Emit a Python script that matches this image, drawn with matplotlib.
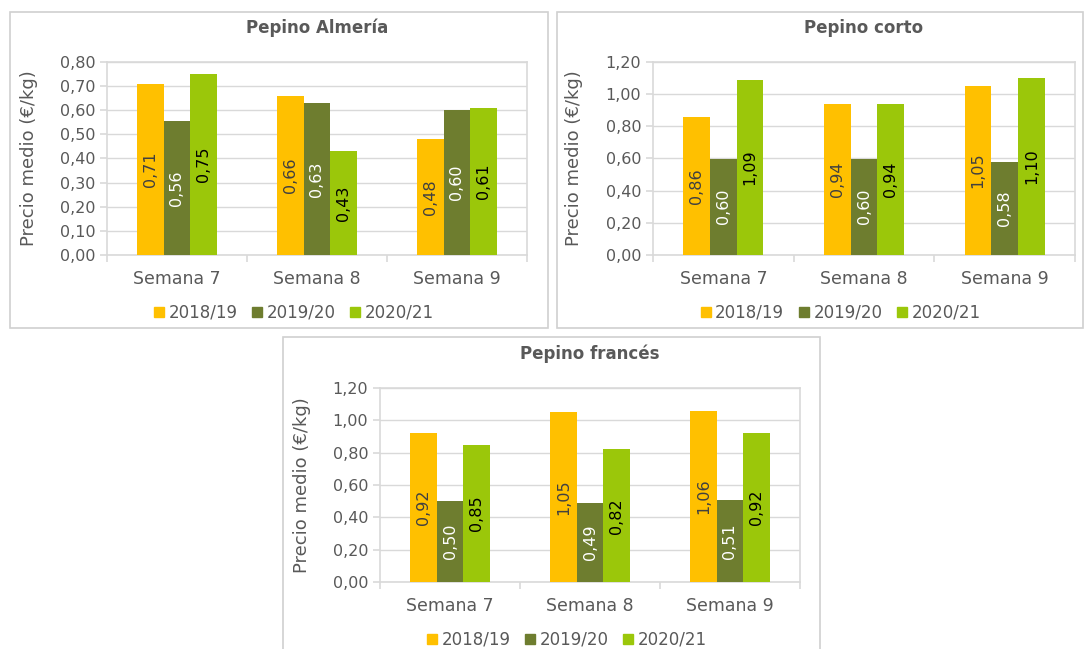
import numpy as np
import matplotlib
matplotlib.use('Agg')
import matplotlib.pyplot as plt
from matplotlib.patches import Rectangle, Patch

plt.rcParams['font.family'] = ['DejaVu Sans']

# data
weeks = ['Semana 7', 'Semana 8', 'Semana 9']
seasons = ['2018/19', '2019/20', '2020/21']

almeria_1819 = [0.71, 0.66, 0.48]
almeria_1920 = [0.555, 0.63, 0.60]
almeria_2021 = [0.75, 0.43, 0.61]

corto_1819 = [0.86, 0.94, 1.05]
corto_1920 = [0.60, 0.60, 0.58]
corto_2021 = [1.09, 0.94, 1.10]

frances_1819 = [0.92, 1.05, 1.06]
frances_1920 = [0.50, 0.49, 0.51]
frances_2021 = [0.85, 0.82, 0.92]

colors = ['#FFC000', '#6E7D2F', '#9BC70A']
label_colors = ['#404040', 'white', 'black']
grid_c = '#D9D9D9'
text_c = '#595959'

W, H = 1085, 649
fig = plt.figure(figsize=(W / 100, H / 100), dpi=100)


def px_box(l, t, r, b):
    return [l / W, 1 - b / H, (r - l) / W, (b - t) / H]


# panel frames
for l, t, r, b in [(10, 12, 548, 328), (557, 12, 1083, 328), (283, 337, 820, 660)]:
    fig.patches.append(Rectangle((l / W, 1 - b / H), (r - l) / W, (b - t) / H,
                                 transform=fig.transFigure, fill=False,
                                 edgecolor='#D0D0D0', linewidth=1.2))


def draw(box, title, series, ymax, step):
    ax = fig.add_axes(px_box(*box))
    ax.set_axisbelow(True)
    x = np.arange(len(weeks))
    w = 0.19
    for i, vals in enumerate(series):
        pos = x + (i - 1) * w
        ax.bar(pos, vals, w, color=colors[i], zorder=3)
        for p, v in zip(pos, vals):
            ax.text(p, v / 2, '{:.2f}'.format(v).replace('.', ','), rotation=90,
                    ha='center', va='center', fontsize=11.5, color=label_colors[i], zorder=4)
    ax.set_xlim(-0.5, 2.5)
    ax.set_ylim(0, ymax)
    ticks = np.arange(0, ymax + 1e-9, step)
    ax.set_yticks(ticks)
    ax.set_yticklabels(['{:.2f}'.format(t).replace('.', ',') for t in ticks])
    ax.set_xticks(x)
    ax.set_xticklabels(weeks)
    ax.set_xticks([-0.5, 0.5, 1.5, 2.5], minor=True)
    ax.tick_params(axis='x', which='major', length=0, pad=11, labelsize=12.5, labelcolor=text_c)
    ax.tick_params(axis='x', which='minor', length=5, color=grid_c, width=1.2)
    ax.tick_params(axis='y', length=5, color=grid_c, width=1.2, labelsize=11.5, labelcolor=text_c)
    ax.grid(axis='y', color=grid_c, linewidth=1.0)
    for s in ax.spines.values():
        s.set_color(grid_c)
        s.set_linewidth(1.2)
    ax.set_title(title, fontsize=12, fontweight='bold', color=text_c, pad=21)
    ax.set_ylabel('Precio medio (€/kg)', fontsize=13, color=text_c)
    ax.yaxis.set_label_coords(-0.165, 0.5)
    handles = [Patch(color=c) for c in colors]
    ax.legend(handles, seasons, loc='upper center', bbox_to_anchor=(0.445, -0.175), ncol=3,
              frameon=False, fontsize=12, labelcolor=text_c, handlelength=0.6,
              handleheight=0.6, handletextpad=0.25, columnspacing=0.9)
    return ax


draw((107, 62, 527, 255), 'Pepino Almería', [almeria_1819, almeria_1920, almeria_2021], 0.8, 0.1)
draw((653, 62, 1075, 255), 'Pepino corto', [corto_1819, corto_1920, corto_2021], 1.2, 0.2)
draw((380, 388, 800, 582), 'Pepino francés', [frances_1819, frances_1920, frances_2021], 1.2, 0.2)

fig.savefig('out.png', dpi=100)
